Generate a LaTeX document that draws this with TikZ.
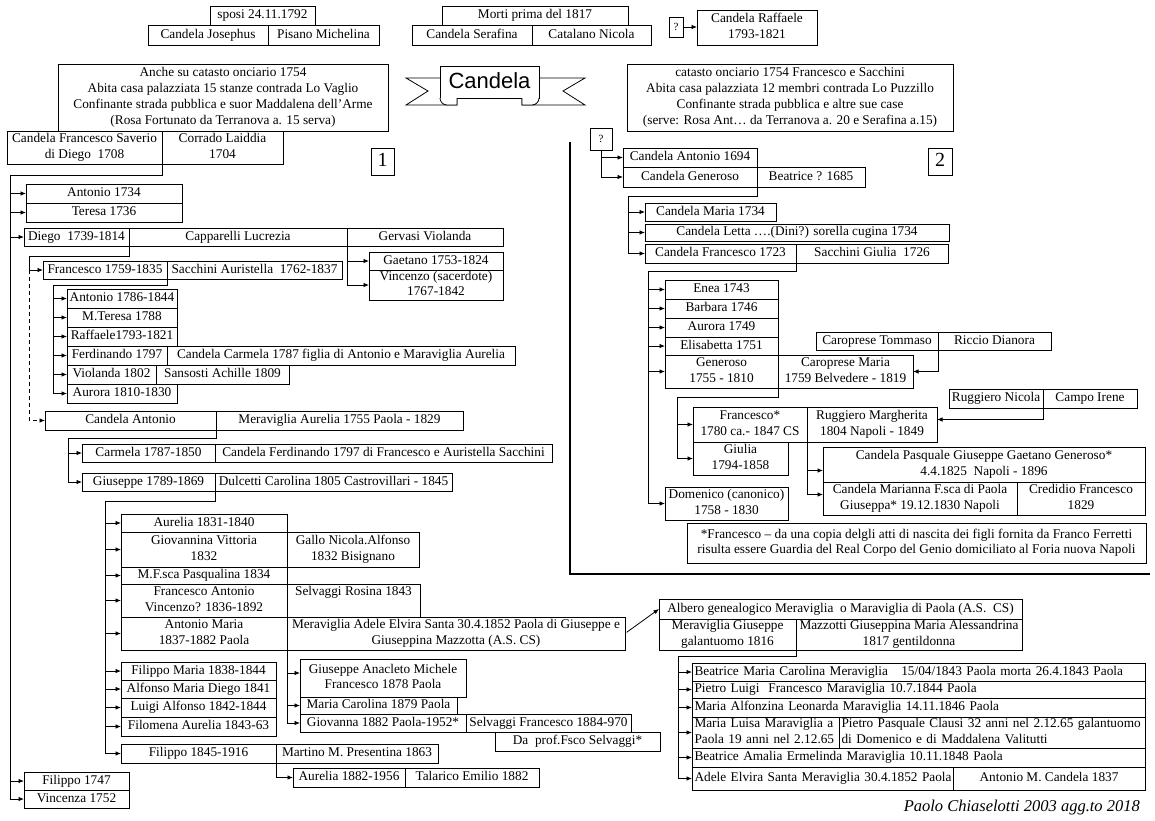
\documentclass[tikz,border=0pt]{standalone}
\usepackage{fontspec}
\setmainfont{Liberation Serif}
\newfontfamily\ribbonfont{Liberation Sans}
\usetikzlibrary{arrows.meta}
\newcommand\mystrut{\rule[-3.2pt]{0pt}{12.8pt}}
\tikzset{
  bxs/.style={draw,line width=0.8pt,inner sep=0pt,outer sep=0pt,align=center,execute at begin node=\mystrut,execute at end node=\mystrut,font=\fontsize{13.3}{15.8}\selectfont},
  arr/.style={line width=0.8pt,-{Latex[length=5.5pt,width=4.5pt]}},
  ln/.style={line width=0.8pt},
  dsh/.style={dash pattern=on 4pt off 3pt}
}
\newcommand\bx[7][]{%
  \pgfmathsetmacro\bw{#5-#3}\pgfmathsetmacro\bh{#6-#4}%
  \pgfmathsetmacro\cx{(#3+#5)/2}\pgfmathsetmacro\cy{(#4+#6)/2}%
  \node[bxs,minimum width=\bw pt,minimum height=\bh pt,#1] (#2) at (\cx,\cy) {#7};}
\newcommand\lbx[7][]{%
  \pgfmathsetmacro\bw{#5-#3-5}\pgfmathsetmacro\bh{#6-#4}%
  \pgfmathsetmacro\cx{(#3+#5)/2}\pgfmathsetmacro\cy{(#4+#6)/2}%
  \node[bxs,align=left,text width=\bw pt,inner xsep=2.5pt,minimum height=\bh pt,#1] (#2) at (\cx,\cy) {#7};}
\begin{document}
\begin{tikzpicture}[x=1pt,y=-1pt]
\fill[white] (0,0) rectangle (1155,820);
\useasboundingbox (0,0) rectangle (1155,820);

% ---------- top row ----------
\bx{sposi}{210}{6}{315}{25}{sposi 24.11.1792}
\bx{jos}{148}{25}{268}{45}{Candela Josephus}
\bx{pis}{268}{25}{379}{45}{Pisano Michelina}
\bx{morti}{442}{6}{628}{25}{Morti prima del 1817}
\bx{sera}{412}{25}{532}{45}{Candela Serafina}
\bx{catal}{532}{25}{651}{45}{Catalano Nicola}
\bx[font=\fontsize{11}{13}\selectfont,execute at begin node={},execute at end node={}]{q1}{669}{17}{683}{37}{?}
\bx{raff}{697}{10}{817}{45}{Candela Raffaele\\1793-1821}
\draw[arr] (q1.east) -- (q1.east -| raff.west);

% ---------- ribbon ----------
\draw[ln,fill=white] (457,78) -- (406,78) -- (428,91) -- (406,105) -- (457,105) -- cycle;
\draw[ln,fill=white] (522,78) -- (585,78) -- (563,91) -- (585,105) -- (522,105) -- cycle;
\draw[ln,fill=white] (440,66) rectangle (539,98);
\draw[ln,fill=white] (440,98) to[out=-90,in=180] (447,105) -- (457,105) -- (457,98);
\draw[ln,fill=white] (539,98) to[out=-90,in=0] (532,105) -- (522,105) -- (522,98);
\node[font=\ribbonfont\fontsize{22}{24}\selectfont,inner sep=0pt] (title) at (489.5,81) {Candela};

% ---------- left panel ----------
\bx{anche}{58}{64}{388}{131}{Anche su catasto onciario 1754\\Abita casa palazziata 15 stanze contrada Lo Vaglio\\Confinante strada pubblica e suor Maddalena dell’Arme\\(Rosa Fortunato da Terranova a. 15 serva)}
\bx{cfs}{7}{131}{162}{164}{Candela Francesco Saverio\\di Diego \ 1708}
\bx{corr}{162}{131}{283}{164}{Corrado Laiddia\\1704}
\bx[font=\fontsize{20}{24}\selectfont,execute at begin node={},execute at end node={}]{one}{371}{148}{394}{175}{1}
\bx{a1734}{26}{184}{182}{203}{Antonio 1734}
\bx{t1736}{26}{203}{182}{222}{Teresa 1736}
\bx{diego}{24}{228}{129}{246}{Diego \ 1739-1814}
\bx{capp}{129}{228}{347}{246}{Capparelli Lucrezia}
\bx{gerv}{347}{228}{503}{246}{Gervasi Violanda}
\bx{gaet}{369}{252}{503}{270}{Gaetano 1753-1824}
\bx{vinc}{369}{270}{503}{300}{Vincenzo (sacerdote)\\1767-1842}
\bx{fr1759}{43}{261}{167}{279}{Francesco 1759-1835}
\bx{sacc}{167}{261}{342}{279}{Sacchini Auristella \ 1762-1837}
\bx{ant1786}{67}{289}{177}{308}{Antonio 1786-1844}
\bx{mter}{67}{308}{177}{327}{M.Teresa 1788}
\bx{raf93}{67}{327}{177}{346}{Raffaele1793-1821}
\bx{ferd}{67}{346}{167}{365}{Ferdinando 1797}
\bx{ccarm}{167}{346}{515}{365}{Candela Carmela 1787 figlia di Antonio e Maraviglia Aurelia}
\bx{viol}{67}{365}{156}{384}{Violanda 1802}
\bx{sans}{156}{365}{289}{384}{Sansosti Achille 1809}
\bx{auro}{67}{384}{177}{403}{Aurora 1810-1830}
\bx{candant}{45}{411}{216}{430}{Candela Antonio}
\bx{merau}{216}{411}{463}{430}{Meraviglia Aurelia 1755 Paola - 1829}
\bx{carm}{82}{444}{215}{462}{Carmela 1787-1850}
\bx{cferd}{215}{444}{552}{462}{Candela Ferdinando 1797 di Francesco e Auristella Sacchini}
\bx{gius}{82}{473}{215}{491}{Giuseppe 1789-1869}
\bx{dulc}{215}{473}{452}{491}{Dulcetti Carolina 1805 Castrovillari - 1845}
\bx{aur31}{121}{514}{287}{532}{Aurelia 1831-1840}
\bx{giov}{121}{532}{287}{567}{Giovannina Vittoria\\1832}
\bx{gallo}{287}{532}{419}{567}{Gallo Nicola.Alfonso\\1832 Bisignano}
\bx{mfsca}{121}{567}{287}{584}{M.F.sca Pasqualina 1834}
\bx{frant}{121}{584}{287}{617}{Francesco Antonio\\Vincenzo? 1836-1892}
\bx{selvr}{287}{584}{420}{617}{Selvaggi Rosina 1843\\\phantom{X}}
\bx{antm}{121}{617}{287}{650}{Antonio Maria\\1837-1882 Paola}
\bx{merad}{287}{617}{625}{650}{Meraviglia Adele Elvira Santa 30.4.1852 Paola di Giuseppe e\\Giuseppina Mazzotta (A.S. CS)}
\bx{film}{121}{662}{276}{680}{Filippo Maria 1838-1844}
\bx{alf}{121}{680}{276}{698}{Alfonso Maria Diego 1841}
\bx{luig}{121}{698}{276}{717}{Luigi Alfonso 1842-1844}
\bx{filo}{121}{717}{276}{736}{Filomena Aurelia 1843-63}
\bx{fil45}{121}{744}{276}{763}{Filippo 1845-1916}
\bx{mart}{276}{744}{438}{763}{Martino M. Presentina 1863}
\bx{aur82}{293}{768}{405}{787}{Aurelia 1882-1956}
\bx{tala}{405}{768}{539}{787}{Talarico Emilio 1882}
\bx{gana}{300}{659}{466}{697}{Giuseppe Anacleto Michele\\Francesco 1878 Paola}
\bx{mcar}{300}{697}{457}{714}{Maria Carolina 1879 Paola}
\bx{giova}{300}{714}{466}{732}{Giovanna 1882 Paola-1952*}
\bx{selvf}{466}{714}{631}{732}{Selvaggi Francesco 1884-970}
\bx{daprof}{495}{732}{660}{751}{Da \ prof.Fsco Selvaggi*}
\bx{fil1747}{24}{772}{129}{790}{Filippo 1747}
\bx{vin1752}{24}{790}{129}{808}{Vincenza 1752}

% left connectors
\coordinate (L0) at (10,175);
\draw[ln] (cfs.south east) |- (L0);
\foreach \c in {a1734,t1736,diego,fil1747,vin1752} \draw[arr] (L0) |- (\c.west);
\coordinate (L1) at (29,256);
\draw[ln] (diego.south east) |- (L1);
\draw[arr] (L1) |- (fr1759.west);
\draw[arr,dsh] (L1 |- fr1759.west) |- (candant.west);
\draw[arr] (gerv.south west) |- (gaet.west);
\draw[arr] (gerv.south west) |- (vinc.west);
\coordinate (L2) at (53,285);
\draw[ln] (fr1759.south east) |- (L2);
\foreach \c in {ant1786,mter,raf93,ferd,viol,auro} \draw[arr] (L2) |- (\c.west);
\coordinate (L3) at (68,438);
\draw[ln] (candant.south east) |- (L3);
\foreach \c in {carm,gius} \draw[arr] (L3) |- (\c.west);
\coordinate (L4) at (105,501);
\draw[ln] (gius.south east) |- (L4);
\foreach \c in {aur31,giov,mfsca,frant,antm,film,alf,luig,filo,fil45} \draw[arr] (L4) |- (\c.west);
\draw[arr] (antm.south east) |- ([yshift=5pt]gana.west);
\draw[arr] (antm.south east) |- (mcar.west);
\draw[arr] (antm.south east) |- (giova.west);
\draw[arr] (fil45.south east) |- (aur82.west);

% ---------- right panel ----------
\bx{catasto}{627}{64}{953}{131}{catasto onciario 1754 Francesco e Sacchini\\Abita casa palazziata 12 membri contrada Lo Puzzillo\\Confinante strada pubblica e altre sue case\\(serve: Rosa Ant… da Terranova a. 20 e Serafina a.15)}
\bx[font=\fontsize{11}{13}\selectfont,execute at begin node={},execute at end node={}]{q2}{590}{128}{612}{150}{?}
\bx[font=\fontsize{20}{24}\selectfont,execute at begin node={},execute at end node={}]{two}{928}{148}{952}{175}{2}
\bx{ca1694}{623}{148}{757}{167}{Candela Antonio 1694}
\bx{cgen}{623}{167}{757}{187}{Candela Generoso}
\bx{beat}{757}{167}{865}{187}{Beatrice ? 1685}
\bx{cmaria}{645}{203}{776}{221}{Candela Maria 1734}
\bx{letta}{645}{224}{949}{241}{Candela Letta ….(Dini?) sorella cugina 1734}
\bx{cfr23}{645}{244}{796}{263}{Candela Francesco 1723}
\bx{sacg}{796}{244}{948}{263}{Sacchini Giulia \ 1726}
\bx{enea}{665}{280}{778}{299}{Enea 1743}
\bx{barb}{665}{299}{778}{318}{Barbara 1746}
\bx{aurr}{665}{318}{778}{337}{Aurora 1749}
\bx{elis}{665}{337}{778}{355}{Elisabetta 1751}
\bx{gen55}{665}{355}{778}{388}{Generoso\\1755 - 1810}
\bx{cmar}{778}{355}{913}{388}{Caroprese Maria\\1759 Belvedere - 1819}
\bx{tom}{816}{332}{938}{350}{Caroprese Tommaso}
\bx{ricc}{938}{332}{1051}{350}{Riccio Dianora}
\bx{nic}{949}{389}{1043}{408}{Ruggiero Nicola}
\bx{campo}{1043}{389}{1137}{408}{Campo Irene}
\bx{fr80}{693}{407}{807}{442}{Francesco*\\1780 ca.- 1847 CS}
\bx{marg}{807}{407}{937}{442}{Ruggiero Margherita\\1804 Napoli - 1849}
\bx{giul}{693}{442}{788}{475}{Giulia\\1794-1858}
\bx{pasq}{823}{447}{1145}{482}{Candela Pasquale Giuseppe Gaetano Generoso*\\4.4.1825 \ Napoli - 1896}
\bx{mari}{823}{482}{1017}{515}{Candela Marianna F.sca di Paola\\Giuseppa* 19.12.1830 Napoli}
\bx{cred}{1017}{482}{1145}{515}{Credidio Francesco\\1829}
\bx{dom}{665}{487}{788}{520}{Domenico (canonico)\\1758 - 1830}
\bx{note}{687}{523}{1146}{563}{\mbox{*Francesco – da una copia delgli atti di nascita dei figli fornita da Franco Ferretti}\\\mbox{risulta essere Guardia del Real Corpo del Genio domiciliato al Foria nuova Napoli}}
\bx{albero}{659}{599}{1022}{619}{Albero genealogico Meraviglia \ o Maraviglia di Paola (A.S. \ CS)}
\bx{mgius}{659}{619}{796}{650}{Meraviglia Giuseppe\\galantuomo 1816}
\bx{mazz}{796}{619}{1022}{650}{Mazzotti Giuseppina Maria Alessandrina\\1817 gentildonna}
\lbx{bea43}{692}{663}{1145}{681}{\mbox{Beatrice Maria Carolina Meraviglia \ \ 15/04/1843 Paola morta 26.4.1843 Paola}}
\lbx{pie44}{692}{681}{1145}{698}{\mbox{Pietro Luigi \ Francesco Maraviglia 10.7.1844 Paola}}
\lbx{mal46}{692}{698}{1145}{717}{\mbox{Maria Alfonzina Leonarda Maraviglia 14.11.1846 Paola}}
\lbx{mlu}{692}{717}{839}{748}{\mbox{Maria Luisa Maraviglia a}\\\mbox{Paola 19 anni nel 2.12.65}}
\lbx{ppc}{839}{717}{1145}{748}{\mbox{Pietro Pasquale Clausi 32 anni nel 2.12.65 galantuomo}\\\mbox{di Domenico e di Maddalena Valitutti}}
\lbx{bea48}{692}{748}{1145}{767}{\mbox{Beatrice Amalia Ermelinda Maraviglia 10.11.1848 Paola}}
\lbx{ade52}{692}{767}{953}{790}{\mbox{Adele Elvira Santa Meraviglia 30.4.1852 Paola}}
\bx{amc}{953}{767}{1145}{790}{Antonio M. Candela 1837}
\node[anchor=east,inner sep=0pt,font=\itshape\fontsize{16.5}{20}\selectfont] (sig) at (1140,808) {Paolo Chiaselotti 2003 agg.to 2018};

% panel frame
\draw[line width=1.8pt] (570,142) -- (570,574) -- (1150,574);

% right connectors
\draw[arr] (q2.south) |- (ca1694.west);
\draw[arr] (q2.south) |- (cgen.west);
\coordinate (R1) at (628,196);
\draw[ln] (cgen.south east) |- (R1);
\foreach \c in {cmaria,letta,cfr23} \draw[arr] (R1) |- (\c.west);
\coordinate (R2) at (648,271);
\draw[ln] (cfr23.south east) |- (R2);
\foreach \c in {enea,barb,aurr,elis,gen55,dom} \draw[arr] (R2) |- (\c.west);
\coordinate (R3) at (677,397);
\draw[ln] (gen55.south east) |- (R3);
\foreach \c in {fr80,giul} \draw[arr] (R3) |- (\c.west);
\draw[arr] (tom.south east) |- (cmar.east);
\draw[arr] (nic.south east) |- ([yshift=5pt]marg.east);
\draw[arr] (fr80.south east) |- ([yshift=-6pt]pasq.west);
\draw[arr] (fr80.south east) |- ([yshift=4pt]mari.west);
\coordinate (R4) at (678,656);
\draw[ln] (mgius.south east) |- (R4);
\foreach \c in {bea43,pie44,mal46,mlu,bea48,ade52} \draw[arr] (R4) |- (\c.west);
\draw[arr,shorten <=2pt] (merad.east) -- (albero.west);
\end{tikzpicture}
\end{document}
